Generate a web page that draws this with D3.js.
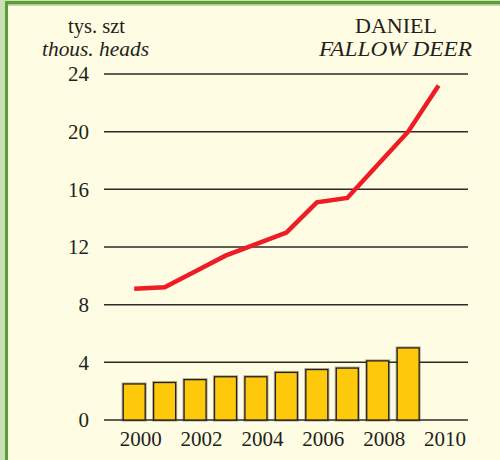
<!DOCTYPE html>
<html>
<head>
<meta charset="utf-8">
<script src="https://cdn.jsdelivr.net/npm/d3@7"></script>
<style>
  html, body { margin: 0; padding: 0; background: #fefce2; }
  svg { display: block; }
  text { font-family: "Liberation Serif", "DejaVu Serif", serif; fill: #231f20; }
</style>
</head>
<body>
<svg id="chart" width="500" height="460"></svg>
<script>
// Fallow deer population (thousand heads)
const years = [2000, 2001, 2002, 2003, 2004, 2005, 2006, 2007, 2008, 2009];
const barValues = [2.5, 2.6, 2.8, 3.0, 3.0, 3.3, 3.5, 3.6, 4.1, 5.0];
const lineYears = [2000, 2001, 2002, 2003, 2004, 2005, 2006, 2007, 2008, 2009, 2010];
const lineValues = [9.1, 9.2, 10.3, 11.4, 12.2, 13.0, 15.1, 15.4, 17.7, 20.0, 23.2];
const yTicks = [0, 4, 8, 12, 16, 20, 24];
const xTickLabels = [2000, 2002, 2004, 2006, 2008, 2010];

const svg = d3.select("#chart");

// page frame: cream panel with green edges on the left and top
svg.append("rect").attr("x", 0).attr("y", 0).attr("width", 500).attr("height", 460).attr("fill", "#fefce2");
svg.append("rect").attr("x", 0).attr("y", 0).attr("width", 5).attr("height", 460).attr("fill", "#cadfb4");
svg.append("rect").attr("x", 5).attr("y", 0).attr("width", 3).attr("height", 460).attr("fill", "#5a9d3a");
svg.append("rect").attr("x", 0).attr("y", 0).attr("width", 500).attr("height", 1).attr("fill", "#cadfb4");
svg.append("rect").attr("x", 5).attr("y", 1).attr("width", 495).attr("height", 3.5).attr("fill", "#5a9d3a");
svg.append("rect").attr("x", 8).attr("y", 4.5).attr("width", 492).attr("height", 1.2).attr("fill", "#a9cc8e");

const y = d3.scaleLinear().domain([0, 24]).range([420, 74]);
const x = d3.scaleLinear().domain([2000, 2010]).range([134.2, 438.6]);
const barW = 22;
const gridX0 = 104, gridX1 = 468;

// horizontal grid lines
svg.append("g").selectAll("line").data(yTicks).join("line")
  .attr("x1", gridX0).attr("x2", gridX1)
  .attr("y1", d => y(d)).attr("y2", d => y(d))
  .attr("stroke", "#2b2b2b").attr("stroke-width", 1.5);

// y tick labels
svg.append("g").selectAll("text").data(yTicks).join("text")
  .attr("x", 89).attr("y", d => y(d))
  .attr("dy", "0.35em")
  .attr("text-anchor", "end")
  .attr("font-size", 21)
  .text(d => d);

// bars with a soft dark halo under the outline
const bars = svg.append("g");
bars.selectAll("rect.halo").data(years).join("rect")
  .attr("class", "halo")
  .attr("x", d => x(d) - barW / 2)
  .attr("y", (d, i) => y(barValues[i]))
  .attr("width", barW)
  .attr("height", (d, i) => y(0) - y(barValues[i]))
  .attr("fill", "none")
  .attr("stroke", "rgba(60,50,30,0.35)")
  .attr("stroke-width", 3.2);
bars.selectAll("rect.bar").data(years).join("rect")
  .attr("class", "bar")
  .attr("x", d => x(d) - barW / 2)
  .attr("y", (d, i) => y(barValues[i]))
  .attr("width", barW)
  .attr("height", (d, i) => y(0) - y(barValues[i]))
  .attr("fill", "#ffc90b")
  .attr("stroke", "#231f20")
  .attr("stroke-width", 1.3);

// trend line
const line = d3.line()
  .x((d, i) => x(lineYears[i]))
  .y(d => y(d));
svg.append("path")
  .datum(lineValues)
  .attr("d", line)
  .attr("fill", "none")
  .attr("stroke", "#ee1d25")
  .attr("stroke-width", 4.5)
  .attr("stroke-linejoin", "miter");

// x tick labels
svg.append("g").selectAll("text").data(xTickLabels).join("text")
  .attr("x", d => x(d) + 6.5)
  .attr("y", 446)
  .attr("text-anchor", "middle")
  .attr("font-size", 21)
  .text(d => d);

// unit label
svg.append("text").attr("x", 96.5).attr("y", 33).attr("text-anchor", "middle")
  .attr("font-size", 20).attr("textLength", 57).attr("lengthAdjust", "spacingAndGlyphs")
  .text("tys. szt");
svg.append("text").attr("x", 95.5).attr("y", 55.5).attr("text-anchor", "middle")
  .attr("font-size", 20).attr("font-style", "italic")
  .attr("textLength", 107).attr("lengthAdjust", "spacingAndGlyphs")
  .text("thous. heads");

// species title
svg.append("text").attr("x", 396).attr("y", 33).attr("text-anchor", "middle")
  .attr("font-size", 20).attr("textLength", 82).attr("lengthAdjust", "spacingAndGlyphs")
  .text("DANIEL");
svg.append("text").attr("x", 395.5).attr("y", 55.5).attr("text-anchor", "middle")
  .attr("font-size", 20).attr("font-style", "italic")
  .attr("textLength", 153).attr("lengthAdjust", "spacingAndGlyphs")
  .text("FALLOW DEER");
</script>
</body>
</html>
